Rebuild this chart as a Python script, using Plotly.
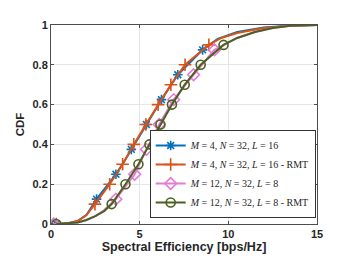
import plotly.graph_objects as go

# ---- data ----
blue_x = [0.3, 1.0, 1.5, 2.0, 2.57, 3.1, 3.66, 4.1, 4.53, 5.38, 6.23, 7.15, 8.55, 9.4, 10.5, 12.0, 13.5, 15.0]
blue_y = [0.0, 0.005, 0.015, 0.045, 0.125, 0.185, 0.25, 0.31, 0.375, 0.5, 0.625, 0.75, 0.875, 0.93, 0.965, 0.988, 0.997, 1.0]
blue_mx = [0.3, 2.57, 3.66, 4.53, 5.38, 6.23, 7.15, 8.55]
blue_my = [0.0, 0.125, 0.25, 0.375, 0.5, 0.625, 0.75, 0.875]

orange_x = [0.3, 1.0, 1.5, 2.0, 2.48, 3.31, 4.04, 4.67, 5.35, 6.04, 6.76, 7.56, 8.9, 9.6, 10.5, 12.0, 13.5, 15.0]
orange_y = [0.0, 0.004, 0.015, 0.045, 0.1, 0.2, 0.3, 0.4, 0.5, 0.6, 0.7, 0.8, 0.9, 0.935, 0.96, 0.985, 0.996, 1.0]
orange_mx = [0.3, 2.48, 3.31, 4.04, 4.67, 5.35, 6.04, 6.76, 7.56, 8.9]
orange_my = [0.0, 0.1, 0.2, 0.3, 0.4, 0.5, 0.6, 0.7, 0.8, 0.9]

pink_x = [0.15, 1.0, 1.5, 2.0, 2.5, 3.0, 3.66, 4.72, 5.38, 6.1, 6.92, 8.04, 9.22, 10.5, 11.5, 12.5, 13.5, 15.0]
pink_y = [0.0, 0.003, 0.008, 0.02, 0.04, 0.07, 0.125, 0.25, 0.375, 0.5, 0.625, 0.75, 0.875, 0.935, 0.965, 0.985, 0.996, 1.0]
pink_mx = [0.15, 3.66, 4.72, 5.38, 6.1, 6.92, 8.04, 9.22]
pink_my = [0.0, 0.125, 0.25, 0.375, 0.5, 0.625, 0.75, 0.875]

green_x = [0.3, 1.0, 1.5, 2.0, 2.5, 3.0, 3.42, 4.2, 4.93, 5.55, 6.17, 6.82, 7.54, 8.44, 9.73, 10.5, 11.5, 12.5, 13.5, 15.0]
green_y = [0.0, 0.003, 0.008, 0.02, 0.04, 0.065, 0.1, 0.2, 0.3, 0.4, 0.5, 0.6, 0.7, 0.8, 0.9, 0.935, 0.965, 0.985, 0.996, 1.0]
green_mx = [0.3, 3.42, 4.2, 4.93, 5.55, 6.17, 6.82, 7.54, 8.44, 9.73]
green_my = [0.0, 0.1, 0.2, 0.3, 0.4, 0.5, 0.6, 0.7, 0.8, 0.9]

names = [
    "<i>M</i> = 4, <i>N</i> = 32, <i>L</i> = 16",
    "<i>M</i> = 4, <i>N</i> = 32, <i>L</i> = 16 - RMT",
    "<i>M</i> = 12, <i>N</i> = 32, <i>L</i> = 8",
    "<i>M</i> = 12, <i>N</i> = 32, <i>L</i> = 8 - RMT",
]
x_ticks = [0, 5, 10, 15]
y_ticks = [0, 0.2, 0.4, 0.6, 0.8, 1]
y_tick_labels = ["0", "0.2", "0.4", "0.6", "0.8", "1"]

series = [
    (blue_x, blue_y, blue_mx, blue_my, "#0072BD", "asterisk-open", 8),
    (orange_x, orange_y, orange_mx, orange_my, "#D95319", "cross-thin-open", 9),
    (pink_x, pink_y, pink_mx, pink_my, "#E57BD6", "diamond-open", 9),
    (green_x, green_y, green_mx, green_my, "#4B6021", "circle-open", 9),
]

fig = go.Figure()
for (x, y, mx, my, c, sym, sz), nm in zip(series, names):
    fig.add_trace(go.Scatter(x=x, y=y, mode="lines", line=dict(color=c, width=2),
                             showlegend=False, hoverinfo="skip"))
    fig.add_trace(go.Scatter(x=mx, y=my, mode="markers",
                             marker=dict(symbol=sym, size=sz, color=c, line=dict(color=c, width=1.6)),
                             showlegend=False))
    fig.add_trace(go.Scatter(x=[None], y=[None], mode="lines+markers", name=nm,
                             line=dict(color=c, width=2),
                             marker=dict(symbol=sym, size=sz, color=c, line=dict(color=c, width=1.6))))

axis_common = dict(
    showline=True, linecolor="#4d4d4d", linewidth=1, mirror="ticks",
    ticks="inside", ticklen=3, tickcolor="#4d4d4d",
    showgrid=True, gridcolor="#e6e6e6", gridwidth=1, zeroline=False,
    tickfont=dict(family="Liberation Sans, Arial", size=11, color="#262626", weight="bold"),
)

# The page body adds an 8 px margin, so the figure is sized to fit inside the window.
fig.update_layout(
    width=342, height=255,
    margin=dict(l=37, r=33, t=11, b=37),
    paper_bgcolor="white", plot_bgcolor="white",
    xaxis=dict(range=[0, 15], tickvals=x_ticks, **axis_common,
               title=dict(text="<b>Spectral Efficiency [bps/Hz]</b>", standoff=3,
                          font=dict(family="Liberation Sans, Arial", size=12.5, color="#262626"))),
    yaxis=dict(range=[0, 1], tickvals=y_ticks, ticktext=y_tick_labels, **axis_common,
               title=dict(text="<b>CDF</b>", standoff=5,
                          font=dict(family="Liberation Sans, Arial", size=11.5, color="#262626"))),
    legend=dict(x=0.995, y=0.03, xanchor="right", yanchor="bottom",
                bgcolor="white", bordercolor="#333333", borderwidth=1,
                font=dict(family="Liberation Serif, Times New Roman", size=10, color="#262626"),
                itemwidth=30, tracegroupgap=0),
)

fig.write_html("out.html")
